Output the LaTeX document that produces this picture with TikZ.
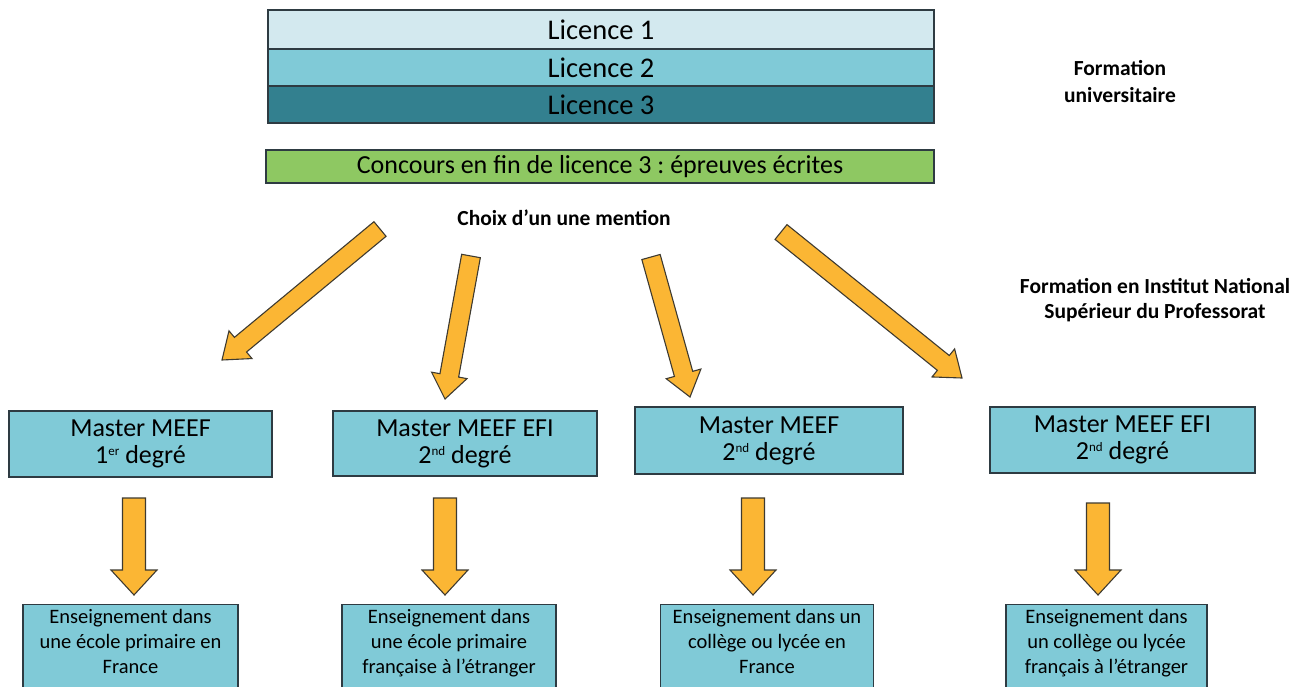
\documentclass[tikz,border=0pt]{standalone}
\usepackage{fontspec}
\setmainfont{Carlito}
\usetikzlibrary{calc}
\frenchspacing
\definecolor{licA}{HTML}{D3E9EF}
\definecolor{licB}{HTML}{80CAD7}
\definecolor{licC}{HTML}{33808F}
\definecolor{vert}{HTML}{8EC862}
\definecolor{boxblue}{HTML}{80CAD7}
\definecolor{arrowfill}{HTML}{FBB634}
\definecolor{edge}{HTML}{2E3B42}
\definecolor{arrowedge}{HTML}{3E3A30}
\tikzset{
  band/.style={draw=edge, line width=1.3pt, minimum width=666pt, inner sep=0pt,
    font=\fontsize{28.5}{30}\selectfont},
  lbl/.style={align=center, inner sep=0pt, font=\fontsize{21.5}{26}\selectfont\bfseries},
  master/.style={draw=edge, fill=boxblue, line width=1.3pt, align=center, inner sep=0pt,
    font=\fontsize{26}{27}\selectfont},
  ens/.style={draw=edge, fill=boxblue, line width=1.3pt, anchor=north, inner xsep=0pt, inner ysep=5pt,
    font=\fontsize{20.5}{25}\selectfont},
  barrow/.style={fill=arrowfill, draw=arrowedge, line width=1.1pt, line join=miter}
}
\newcommand{\blockarrow}[5]{%
  \coordinate (#1#2base) at ($(#2)!#5!(#1)$);
  \draw[barrow] ($(#1)!#3!90:(#2)$) -- ($(#1#2base)!#3!90:(#2)$) -- ($(#1#2base)!#4!90:(#2)$)
    -- (#2) -- ($(#1#2base)!#4!-90:(#2)$) -- ($(#1#2base)!#3!-90:(#2)$) -- ($(#1)!#3!-90:(#2)$) -- cycle;
}
\newcommand{\enstext}[3]{\parbox[c][#1][t]{#2}{\centering #3}}
\newcommand{\supx}[1]{\raisebox{8pt}{\fontsize{13}{13}\selectfont #1}}
\begin{document}
\begin{tikzpicture}[x=1pt,y=-1pt]
\useasboundingbox (0,0) rectangle (1309,686);
% Licence bands
\node[band, fill=licA, minimum height=39pt] (l1) at (601,29.5) {Licence 1};
\node[band, fill=licB, minimum height=37pt] (l2) at (601,67.5) {Licence 2};
\node[band, fill=licC, minimum height=37pt] (l3) at (601,104.5) {Licence 3};
\node[band, fill=vert, minimum width=668pt, minimum height=33pt, font=\fontsize{26}{28}\selectfont] (conc) at (600,166.5) {Concours en fin de licence 3 : épreuves écrites};
% labels
\node[lbl, font=\fontsize{21.5}{27}\selectfont\bfseries] (fu) at (1120,81.5) {Formation\\universitaire};
\node[lbl] (choix) at (564,218) {Choix d’un une mention};
\node[lbl, font=\fontsize{21.5}{25}\selectfont\bfseries] (inspe) at (1155,300.5) {Formation en Institut National\\Supérieur du Professorat};
% master boxes
\node[master, minimum width=263pt, minimum height=66pt] (m1) at (140.5,444) {\rule{0pt}{2pt}Master MEEF\\1\supx{er} degré};
\node[master, minimum width=264pt, minimum height=65pt] (m2) at (465,443.5) {Master MEEF EFI\\2\supx{nd} degré};
\node[master, minimum width=268pt, minimum height=67pt] (m3) at (769,440.5) {Master MEEF\\2\supx{nd} degré};
\node[master, minimum width=265pt, minimum height=66pt] (m4) at (1122.5,440) {Master MEEF EFI\\2\supx{nd} degré};
% bottom boxes
\node[ens] (e1) at (130.5,604) {\enstext{82pt}{215pt}{Enseignement dans\\une école primaire en\\France}};
\node[ens] (e2) at (449,604) {\enstext{82pt}{214pt}{Enseignement dans\\une école primaire\\française à l’étranger}};
\node[ens] (e3) at (767,604) {\enstext{82pt}{213.5pt}{Enseignement dans un\\collège ou lycée en\\France}};
\node[ens] (e4) at (1106.5,604) {\enstext{82pt}{201pt}{Enseignement dans\\un collège ou lycée\\français à l’étranger}};
% arrow end points
\coordinate (a1t) at (380,229); \coordinate (a1h) at (222,360);
\coordinate (a2t) at (471,256); \coordinate (a2h) at (445,399);
\coordinate (a3t) at (651,257); \coordinate (a3h) at (690,397);
\coordinate (a4t) at (781,232); \coordinate (a4h) at (962,378);
\coordinate (v1t) at (134,498); \coordinate (v1h) at (134,595);
\coordinate (v2t) at (445,498); \coordinate (v2h) at (445,595);
\coordinate (v3t) at (753,498); \coordinate (v3h) at (753,595);
\coordinate (v4t) at (1098,503); \coordinate (v4h) at (1098,595);
\blockarrow{a1t}{a1h}{9.5pt}{18pt}{24pt}
\blockarrow{a2t}{a2h}{9.5pt}{18pt}{24pt}
\blockarrow{a3t}{a3h}{9.5pt}{18pt}{24pt}
\blockarrow{a4t}{a4h}{9.5pt}{18pt}{24pt}
\blockarrow{v1t}{v1h}{11.5pt}{23pt}{25pt}
\blockarrow{v2t}{v2h}{11.5pt}{23pt}{25pt}
\blockarrow{v3t}{v3h}{11.5pt}{23pt}{25pt}
\blockarrow{v4t}{v4h}{11.5pt}{23pt}{25pt}
\end{tikzpicture}
\end{document}
